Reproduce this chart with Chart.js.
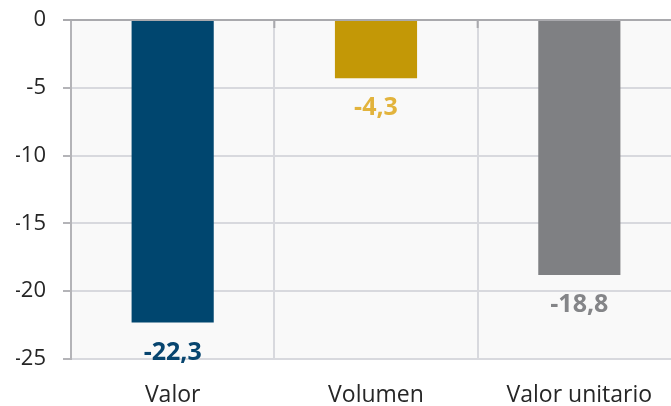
<!DOCTYPE html>
<html>
<head>
<meta charset="utf-8">
<script src="https://cdn.jsdelivr.net/npm/chart.js@4.4.1/dist/chart.umd.min.js"></script>
<style>
html,body{margin:0;padding:0;background:#fff;overflow:hidden;}
#wrap{width:681px;height:406px;}
</style>
</head>
<body>
<div id="wrap"><canvas id="c" width="681" height="406"></canvas></div>
<script>
const categories = ["Valor", "Volumen", "Valor unitario"];
const values = [-22.3, -4.3, -18.8];
const barColors = ["#00466f", "#c39806", "#7f8083"];
const labelColors = ["#07456f", "#e2b33c", "#848588"];
const yTicks = [0, -5, -10, -15, -20, -25];

const bgPlugin = {
  id: 'bg',
  beforeDraw(chart) {
    const {ctx, chartArea: a} = chart;
    ctx.save();
    ctx.fillStyle = '#f9f9f9';
    ctx.fillRect(a.left, a.top, a.right - a.left, a.bottom - a.top);
    ctx.restore();
  },
  afterDraw(chart) {
    const {ctx, chartArea: a} = chart;
    const x = chart.scales.x, y = chart.scales.y;
    const y0 = y.getPixelForValue(0);
    ctx.save();
    ctx.strokeStyle = '#a9a9ad';
    ctx.lineWidth = 2;
    for (let i = 1; i < categories.length; i++) {
      const px = (x.getPixelForValue(i - 1) + x.getPixelForValue(i)) / 2;
      ctx.beginPath(); ctx.moveTo(px, y0); ctx.lineTo(px, y0 + 8); ctx.stroke();
    }
    ctx.beginPath(); ctx.moveTo(a.left - 8, y0); ctx.lineTo(a.right, y0); ctx.stroke();
    ctx.restore();
  }
};

const labelPlugin = {
  id: 'vlabels',
  afterDatasetsDraw(chart) {
    const {ctx} = chart;
    const meta = chart.getDatasetMeta(0);
    ctx.save();
    ctx.font = 'bold 25px "Open Sans"';
    ctx.textAlign = 'center';
    ctx.textBaseline = 'middle';
    meta.data.forEach((bar, i) => {
      ctx.fillStyle = labelColors[i];
      ctx.fillText(values[i].toFixed(1).replace('.', ','), bar.x, bar.y + 30);
    });
    ctx.restore();
  }
};

new Chart(document.getElementById('c'), {
  type: 'bar',
  data: {
    labels: categories,
    datasets: [{
      data: values,
      backgroundColor: barColors,
      borderWidth: 0,
      categoryPercentage: 1,
      barPercentage: 0.404
    }]
  },
  options: {
    responsive: false,
    animation: false,
    layout: {padding: {left: 16, top: 20, right: 0, bottom: 0}},
    plugins: {legend: {display: false}, tooltip: {enabled: false}},
    scales: {
      x: {
        offset: true,
        grid: {offset: true, color: '#d8d9de', lineWidth: 2, drawTicks: false},
        border: {display: false},
        ticks: {color: '#262626', font: {family: 'Open Sans', size: 23}, padding: 23},
        afterFit(s) { s.height = 47; s.paddingLeft = 0; s.paddingRight = 0; }
      },
      y: {
        min: -25, max: 0,
        afterBuildTicks(s) { s.ticks = yTicks.slice().reverse().map(v => ({value: v})); },
        grid: {color: '#d8d9de', lineWidth: 2, tickLength: 8, tickColor: '#b4b4b8'},
        border: {display: true, color: '#b4b4b8', width: 2},
        ticks: {color: '#262626', font: {family: 'Open Sans', size: 22}, padding: 17},
        afterFit(s) { s.width = 55; s.paddingTop = 0; s.paddingBottom = 0; }
      }
    }
  },
  plugins: [bgPlugin, labelPlugin]
});
</script>
</body>
</html>
